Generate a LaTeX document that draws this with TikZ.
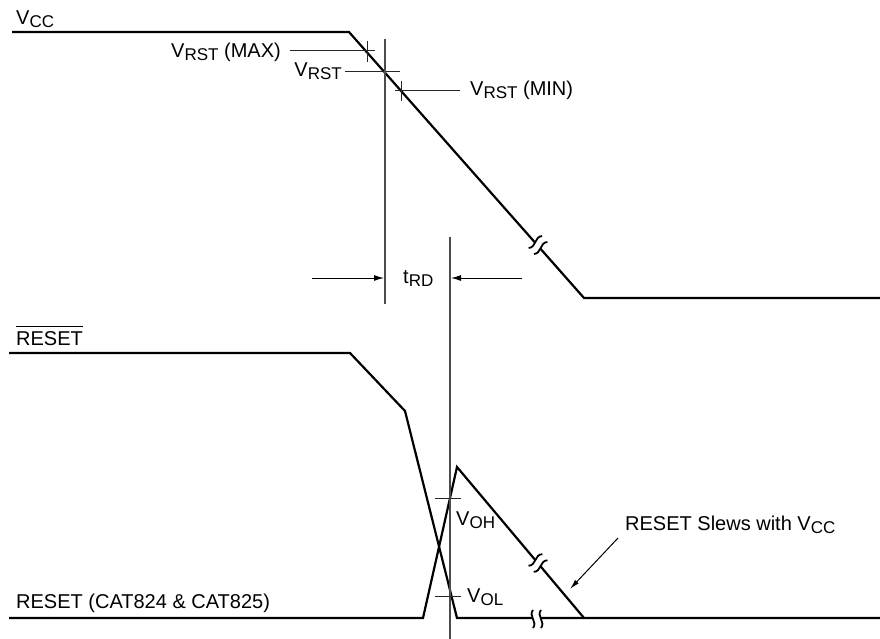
\documentclass[tikz,border=0pt]{standalone}
\usepackage{fontspec}
\setmainfont{Liberation Sans}
\usetikzlibrary{arrows.meta}
\newcommand{\sbs}[1]{\raisebox{-3pt}{\fontsize{17}{17}\selectfont #1}}
\tikzset{
  pics/brk/.style={code={
    \fill[white] (-4,-10) rectangle (4,10);
    \draw[line width=1.8pt] (-4,-9) .. controls (-9,-3) and (1,3) .. (-4,9);
    \draw[line width=1.8pt] (4,-9) .. controls (-1,-3) and (9,3) .. (4,9);
  }}
}
\begin{document}
\begin{tikzpicture}[x=1pt,y=-1pt,
  font=\fontsize{20}{24}\selectfont,
  lbl/.style={inner sep=0pt},
  sig/.style={line width=2.2pt, line join=miter},
  lead/.style={line width=1pt, black!85},
  vline/.style={line width=1.2pt, black!70},
  dimarrow/.style={line width=1pt, -{Latex[length=10pt,width=6pt]}},
  slewarrow/.style={line width=1pt, -{Latex[length=10pt,width=5pt]}}]
\useasboundingbox (0,0) rectangle (880,639);

% key points
\coordinate (v0) at (12,32);
\coordinate (v1) at (349,32);
\coordinate (v2) at (584,298);
\coordinate (v3) at (880,298);
\coordinate (r0) at (9,353);
\coordinate (r1) at (350,353);
\coordinate (r2) at (405,411);
\coordinate (r3) at (457,618);
\coordinate (r4) at (880,618);
\coordinate (c0) at (9,618);
\coordinate (c1) at (423,618);
\coordinate (c2) at (457,467);
\coordinate (c3) at (584,618);

% signals
\draw[sig] (v0) -- (v1) -- (v2) -- (v3);
\draw[sig] (r0) -- (r1) -- (r2) -- (r3) -- (r4);
\draw[sig] (c0) -- (c1) -- (c2) -- (c3);

% break marks
\pic[rotate=-48.5] at (538,245) {brk};
\pic[rotate=-50] at (538,563) {brk};
\pic at (537,619) {brk};

% labels
\node[lbl,anchor=base west] (vcc) at (16,25) {V\sbs{CC}};
\node[lbl,anchor=base east] (vmax) at (281,58) {V\sbs{RST} (MAX)};
\node[lbl,anchor=base east] (vrst) at (342,77) {V\sbs{RST}};
\node[lbl,anchor=base west] (vmin) at (470,96) {V\sbs{RST} (MIN)};
\node[lbl,anchor=base west] (trd) at (403,283) {t\sbs{RD}};
\node[lbl,anchor=base west] (rstb) at (16,345) {RESET};
\draw[line width=1pt] ([yshift=4.5pt]rstb.north west) -- ([yshift=4.5pt]rstb.north east);
\node[lbl,anchor=base west] (rstcat) at (16,608) {RESET (CAT824 \& CAT825)};
\node[lbl,anchor=base west] (voh) at (456,525) {V\sbs{OH}};
\node[lbl,anchor=base west] (vol) at (467,602) {V\sbs{OL}};
\node[lbl,anchor=base west] (slew) at (625,530) {RESET Slews with V\sbs{CC}};

% leaders and ticks
\coordinate (lmaxa) at (290,51); \coordinate (lmaxb) at (375,51);
\draw[lead] (lmaxa) -- (lmaxb);
\coordinate (tmaxa) at (367,41); \coordinate (tmaxb) at (367,62);
\draw[lead] (tmaxa) -- (tmaxb);
\coordinate (lrsta) at (345,72); \coordinate (lrstb) at (400,72);
\draw[lead] (lrsta) -- (lrstb);
\coordinate (lmina) at (395,91); \coordinate (lminb) at (460,91);
\draw[lead] (lmina) -- (lminb);
\coordinate (tmina) at (401,81); \coordinate (tminb) at (401,101);
\draw[lead] (tmina) -- (tminb);

% vertical reference lines
\coordinate (va) at (385,39); \coordinate (vb) at (385,304);
\draw[vline] (va) -- (vb);
\coordinate (wa) at (450,237); \coordinate (wb) at (450,639);
\draw[vline] (wa) -- (wb);

% tRD arrows
\coordinate (al0) at (312,278); \coordinate (al1) at (384,278);
\draw[dimarrow] (al0) -- (al1);
\coordinate (ar0) at (522,278); \coordinate (ar1) at (451,278);
\draw[dimarrow] (ar0) -- (ar1);

% VOH / VOL ticks
\coordinate (oha) at (435,498); \coordinate (ohb) at (461,498);
\draw[lead] (oha) -- (ohb);
\coordinate (ola) at (435,596); \coordinate (olb) at (461,596);
\draw[lead] (ola) -- (olb);

% slew arrow
\coordinate (s0) at (618,538); \coordinate (s1) at (570,589);
\draw[slewarrow] (s0) -- (s1);
\end{tikzpicture}
\end{document}
